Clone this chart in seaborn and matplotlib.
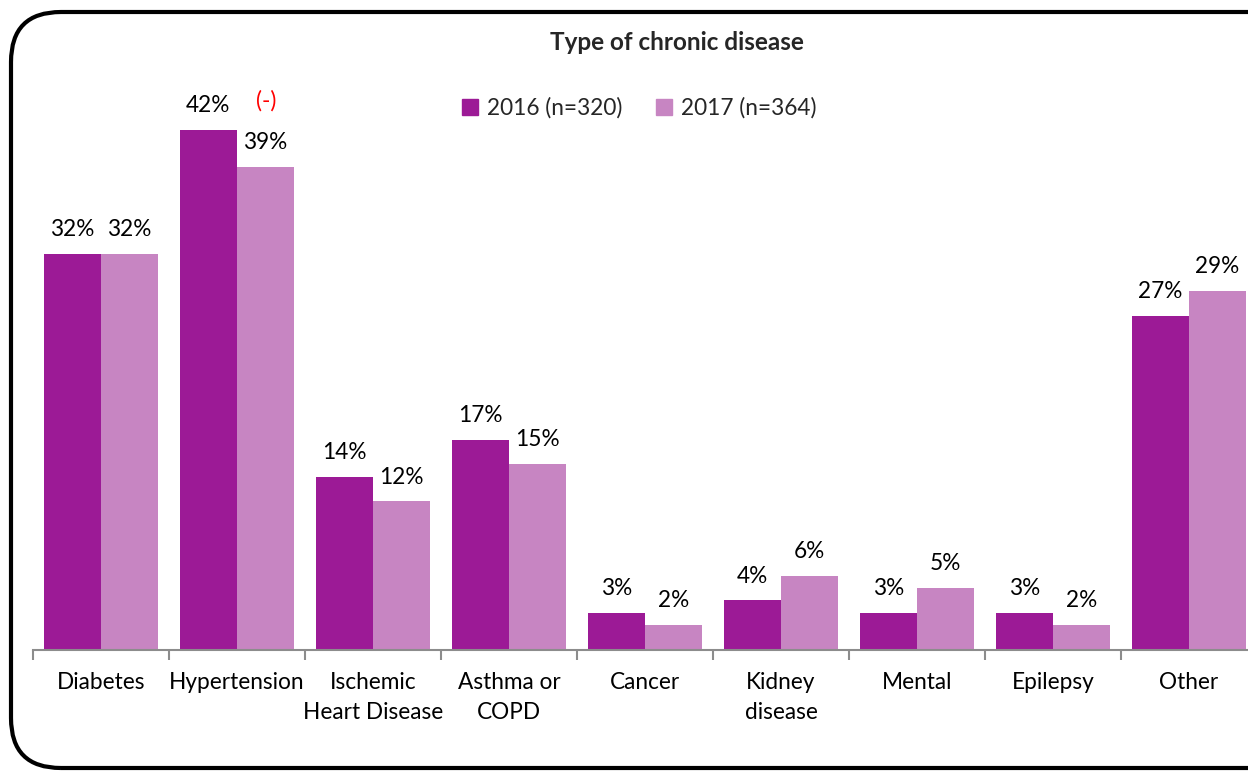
import pandas as pd
import seaborn as sns
import matplotlib.pyplot as plt
from matplotlib.patches import FancyBboxPatch
from matplotlib.ticker import FixedLocator

# Data
categories = ["Diabetes", "Hypertension", "Ischemic\nHeart Disease", "Asthma or\nCOPD",
              "Cancer", "Kidney\ndisease", "Mental", "Epilepsy", "Other"]
values_2016 = [32, 42, 14, 17, 3, 4, 3, 3, 27]
values_2017 = [32, 39, 12, 15, 2, 6, 5, 2, 29]
series = ["2016 (n=320)", "2017 (n=364)"]
colors = ["#9C1A96", "#C785C2"]

df = pd.DataFrame({
    "category": categories * 2,
    "value": values_2016 + values_2017,
    "year": [series[0]] * len(categories) + [series[1]] * len(categories),
})

sns.set_theme(style="white")
plt.rcParams['font.family'] = ['Lato', 'DejaVu Sans']

W, H = 1248, 772
FS = 16.3
fig = plt.figure(figsize=(W / 100, H / 100), dpi=100)

# axes: baseline at y=650px, 12.38 px per percent, left at x=33, 136 px per category
left, bottom = 33 / W, 1 - 650 / H
ymax = 45
ax = fig.add_axes([left, bottom, 9 * 136 / W, ymax * 12.38 / H])

sns.barplot(data=df, x="category", y="value", hue="year", palette=colors,
            width=0.84, gap=0, saturation=1, linewidth=0, ax=ax, legend=False)

ax.set_xlim(-0.5, 8.5)
ax.set_ylim(0, ymax)
ax.set_xlabel("")
ax.set_ylabel("")
ax.set_yticks([])
for s in ["top", "right", "left"]:
    ax.spines[s].set_visible(False)
ax.spines["bottom"].set_color("#8c8c8c")
ax.spines["bottom"].set_linewidth(1.5)

ax.set_xticks(range(len(categories)))
ax.set_xticklabels(categories, fontsize=FS, color="black", linespacing=1.5)
ax.tick_params(axis="x", which="major", length=0, pad=16)
ax.xaxis.set_minor_locator(FixedLocator([i - 0.5 for i in range(len(categories) + 1)]))
ax.tick_params(axis="x", which="minor", bottom=True, length=7, width=1.5, color="#8c8c8c", direction="out")

for container in ax.containers:
    ax.bar_label(container, labels=[f"{v:.0f}%" for v in container.datavalues],
                 fontsize=FS, padding=10, color="black")

# red marker next to Hypertension 2016
ax.annotate("(-)", xy=(1, values_2016[1]), xytext=(29, 29), textcoords="offset pixels",
            fontsize=FS, color="red", ha="center", va="center")

# title
fig.text(677 / W, 1 - 43 / H, "Type of chronic disease", fontsize=17.5, fontweight="bold",
         ha="center", va="center")

# legend
handles = [plt.Rectangle((0, 0), 1, 1, color=c) for c in colors]
fig.legend(handles, series, loc="center", bbox_to_anchor=(639 / W, 1 - 108 / H), ncol=2,
           frameon=False, fontsize=FS, handlelength=0.7, handleheight=0.7,
           handletextpad=0.4, columnspacing=1.5)

# rounded outer frame (right side runs off the picture)
frame = FancyBboxPatch((11 / W, 4 / H), 1.2, 1 - 16 / H, boxstyle="round,pad=0,rounding_size=0.04",
                       transform=fig.transFigure, fill=False, edgecolor="black", linewidth=3,
                       mutation_aspect=W / H, clip_on=False)
fig.patches.append(frame)

fig.savefig("out.png", dpi=100)
